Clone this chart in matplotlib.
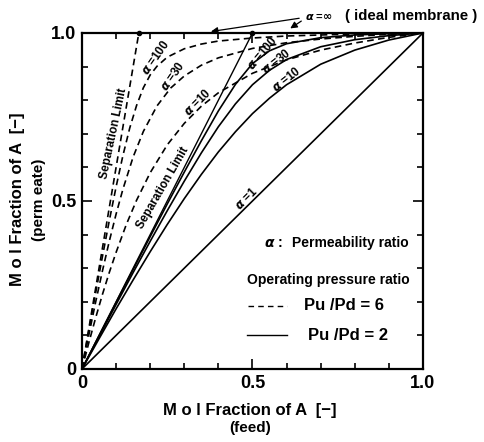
import matplotlib
matplotlib.use("Agg")
import matplotlib.pyplot as plt

plt.rcParams['font.family'] = ['Liberation Sans', 'DejaVu Sans']
plt.rcParams['font.weight'] = 'bold'

# permeate mole fraction vs feed mole fraction
# Pu/Pd = 6 (dashed)
x6_a100 = [0, 0.01, 0.02, 0.04, 0.06, 0.08, 0.10, 0.12, 0.14, 0.16, 0.18, 0.20, 0.22, 0.25, 0.30, 0.35, 0.40, 0.50, 0.60, 0.80, 1.0]
y6_a100 = [0, 0.057, 0.114, 0.226, 0.335, 0.441, 0.542, 0.635, 0.717, 0.784, 0.837, 0.875, 0.901, 0.928, 0.953, 0.967, 0.976, 0.985, 0.991, 0.997, 1.0]
x6_a30 = [0, 0.01, 0.02, 0.04, 0.06, 0.08, 0.10, 0.12, 0.15, 0.18, 0.22, 0.26, 0.30, 0.35, 0.40, 0.50, 0.60, 0.70, 0.80, 0.90, 1.0]
y6_a30 = [0, 0.051, 0.101, 0.199, 0.292, 0.380, 0.461, 0.535, 0.631, 0.707, 0.783, 0.836, 0.872, 0.904, 0.926, 0.954, 0.971, 0.982, 0.990, 0.996, 1.0]
x6_a10 = [0, 0.02, 0.04, 0.06, 0.08, 0.10, 0.13, 0.16, 0.20, 0.25, 0.30, 0.35, 0.40, 0.50, 0.60, 0.70, 0.80, 0.90, 1.0]
y6_a10 = [0, 0.078, 0.152, 0.222, 0.287, 0.347, 0.430, 0.502, 0.584, 0.667, 0.731, 0.782, 0.822, 0.880, 0.920, 0.949, 0.970, 0.987, 1.0]
x6_lim = [0, 1/6]
y6_lim = [0, 1.0]

# Pu/Pd = 2 (solid)
x2 = [0, 0.05, 0.10, 0.15, 0.20, 0.25, 0.30, 0.35, 0.40, 0.45, 0.50, 0.55, 0.60, 0.70, 0.80, 0.90, 1.0]
y2_a100 = [0, 0.099, 0.198, 0.296, 0.394, 0.491, 0.586, 0.679, 0.768, 0.847, 0.909, 0.947, 0.968, 0.986, 0.994, 0.998, 1.0]
y2_a30 = [0, 0.096, 0.192, 0.287, 0.380, 0.471, 0.559, 0.643, 0.721, 0.789, 0.846, 0.889, 0.921, 0.959, 0.980, 0.992, 1.0]
y2_a10 = [0, 0.090, 0.179, 0.265, 0.349, 0.430, 0.507, 0.579, 0.646, 0.706, 0.760, 0.806, 0.846, 0.907, 0.949, 0.979, 1.0]
x2_lim = [0, 0.5]
y2_lim = [0, 1.0]

# alpha = 1
x_a1 = [0, 1.0]
y_a1 = [0, 1.0]

fig = plt.figure(figsize=(4.84, 4.42), dpi=100)
ax = fig.add_axes([0.1694, 0.1652, 0.7045, 0.7602])

dash = (0, (4, 2.6))
lw = 1.2
for xs, ys in [(x6_lim, y6_lim), (x6_a100, y6_a100), (x6_a30, y6_a30), (x6_a10, y6_a10)]:
    ax.plot(xs, ys, color='black', lw=lw, linestyle=dash)
for ys in [y2_a100, y2_a30, y2_a10]:
    ax.plot(x2, ys, color='black', lw=lw)
ax.plot(x2_lim, y2_lim, color='black', lw=1.0)
ax.plot(x_a1, y_a1, color='black', lw=lw)
ax.plot([1/6, 0.5], [1.0, 1.0], 'o', color='black', ms=3, clip_on=False)

ax.set_xlim(0, 1)
ax.set_ylim(0, 1)
ax.set_xticks([0, 0.5, 1.0])
ax.set_xticklabels(['0', '0.5', '1.0'])
ax.set_yticks([0, 0.5, 1.0])
ax.set_yticklabels(['0', '0.5', '1.0'])
ax.set_xticks([i / 10 for i in range(11)], minor=True)
ax.set_yticks([i / 10 for i in range(11)], minor=True)
ax.tick_params(which='both', direction='in', top=True, right=True, width=1.2, labelsize=13)
ax.tick_params(which='major', length=7, pad=4)
ax.tick_params(which='minor', length=4)
for s in ax.spines.values():
    s.set_linewidth(1.6)

# curve labels
lab = dict(fontsize=8.5, fontweight='bold', ha='center', va='center')
ax.text(0.094, 0.70, 'Separation Limit', rotation=78, **lab)
ax.text(0.217, 0.925, r'$\alpha$ =100', rotation=55, **lab)
ax.text(0.267, 0.872, r'$\alpha$ =30', rotation=55, **lab)
ax.text(0.340, 0.792, r'$\alpha$ =10', rotation=45, **lab)
ax.text(0.238, 0.539, 'Separation Limit', rotation=60, **lab)
ax.text(0.481, 0.506, r'$\alpha$ =1', rotation=45, **lab)
ax.text(0.528, 0.94, r'$\alpha$ =100', rotation=50, **lab)
ax.text(0.572, 0.914, r'$\alpha$ =30', rotation=38, **lab)
ax.text(0.601, 0.862, r'$\alpha$ =10', rotation=38, **lab)

# legend-like notes
ax.text(0.534, 0.375, r'$\alpha$ :', fontsize=10, va='center', ha='left')
ax.text(0.616, 0.375, 'Permeability ratio', fontsize=10, fontweight='bold', va='center', ha='left')
ax.text(0.484, 0.265, 'Operating pressure ratio', fontsize=10, fontweight='bold', va='center', ha='left')
ax.plot([0.487, 0.601], [0.1875, 0.1875], color='black', lw=1.0, linestyle=(0, (4, 3)))
ax.text(0.651, 0.1875, 'Pu /Pd = 6', fontsize=12, fontweight='bold', va='center', ha='left')
ax.plot([0.484, 0.601], [0.101, 0.101], color='black', lw=1.0)
ax.text(0.663, 0.101, 'Pu /Pd = 2', fontsize=12, fontweight='bold', va='center', ha='left')

# ideal membrane annotation
arrow = dict(arrowstyle='-|>', color='black', lw=0.9, mutation_scale=10)
ax.annotate('', xy=(0.370, 1.003), xytext=(0.645, 1.045), arrowprops=arrow, annotation_clip=False)
ax.annotate('', xy=(0.604, 1.009), xytext=(0.650, 1.040), arrowprops=arrow, annotation_clip=False)
ax.text(0.654, 1.05, r'$\alpha$ =$\infty$', fontsize=8, va='center', ha='left', clip_on=False)
ax.text(0.772, 1.05, '( ideal membrane )', fontsize=10.8, fontweight='bold', va='center', ha='left', clip_on=False)

# axis titles
fig.text(0.517, 1 - 410 / 442, 'M o l Fraction of A  [\u2212]', fontsize=12, fontweight='bold', ha='center', va='center')
fig.text(0.517, 1 - 428 / 442, '(feed)', fontsize=11, ha='center', va='center')
fig.text(18 / 484, 1 - 199 / 442, 'M o l Fraction of A  [\u2212]', fontsize=12, fontweight='bold', ha='center', va='center', rotation=90)
fig.text(39 / 484, 1 - 200 / 442, '(perm eate)', fontsize=11, ha='center', va='center', rotation=90)

fig.savefig('out.png', dpi=100)
